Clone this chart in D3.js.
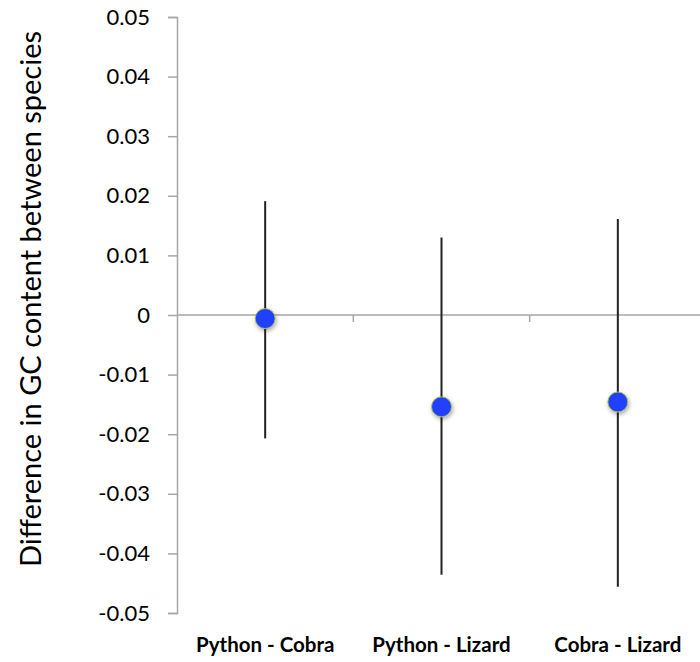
<!DOCTYPE html>
<html>
<head>
<meta charset="utf-8">
<script src="https://cdn.jsdelivr.net/npm/d3@7"></script>
<style>
  html, body { margin: 0; padding: 0; background: #fff; }
  svg { display: block; }
</style>
</head>
<body>
<svg id="chart" width="700" height="662"></svg>
<script>
const categories = ["Python - Cobra", "Python - Lizard", "Cobra - Lizard"];
const means = [-0.0006, -0.0154, -0.0146];
const upper = [0.0191, 0.0130, 0.0161];
const lower = [-0.0207, -0.0436, -0.0456];
const yTicks = [0.05, 0.04, 0.03, 0.02, 0.01, 0, -0.01, -0.02, -0.03, -0.04, -0.05];
const yTickLabels = ["0.05", "0.04", "0.03", "0.02", "0.01", "0", "-0.01", "-0.02", "-0.03", "-0.04", "-0.05"];
const yTitle = "Difference in GC content between species";

const svg = d3.select("#chart");
const font = "Lato, 'Open Sans', sans-serif";

const y = d3.scaleLinear().domain([-0.05, 0.05]).range([613, 17]);
const x = d3.scaleBand().domain(categories).range([177, 706]).padding(0);

const defs = svg.append("defs");
const f = defs.append("filter").attr("id", "shadow").attr("x", "-50%").attr("y", "-50%").attr("width", "200%").attr("height", "200%");
f.append("feDropShadow").attr("dx", 1).attr("dy", 2).attr("stdDeviation", 2).attr("flood-color", "#000").attr("flood-opacity", 0.35);

// Y axis
const yAxis = d3.axisLeft(y).tickValues(yTicks).tickSize(9).tickPadding(18)
  .tickFormat((d, i) => yTickLabels[i]);
const gy = svg.append("g").attr("transform", "translate(177,0)").call(yAxis);
gy.select(".domain").attr("stroke", "#a6a6a6").attr("stroke-width", 1.5);
gy.selectAll(".tick line").attr("stroke", "#a6a6a6").attr("stroke-width", 1.5);
gy.selectAll(".tick text").attr("font-family", font).attr("font-size", 22).attr("fill", "#000");

// Zero line (category axis)
svg.append("line").attr("x1", 177).attr("x2", 700).attr("y1", y(0)).attr("y2", y(0))
  .attr("stroke", "#a6a6a6").attr("stroke-width", 1.5);
svg.selectAll(".ctick").data(categories.slice(1)).enter().append("line")
  .attr("x1", d => x(d)).attr("x2", d => x(d))
  .attr("y1", y(0)).attr("y2", y(0) + 7)
  .attr("stroke", "#a6a6a6").attr("stroke-width", 1.5);

// Category labels
svg.selectAll(".clabel").data(categories).enter().append("text")
  .attr("x", d => x(d) + x.bandwidth() / 2).attr("y", 652)
  .attr("text-anchor", "middle").attr("font-family", font).attr("font-weight", "bold")
  .attr("font-size", 20.5).attr("fill", "#000").text(d => d);

// Y title
svg.append("text").attr("transform", "translate(41,299) rotate(-90)")
  .attr("text-anchor", "middle").attr("font-family", font).attr("font-size", 29)
  .attr("fill", "#000").text(yTitle);

// Error bars
svg.selectAll(".err").data(categories).enter().append("line")
  .attr("x1", d => x(d) + x.bandwidth() / 2).attr("x2", d => x(d) + x.bandwidth() / 2)
  .attr("y1", (d, i) => y(upper[i])).attr("y2", (d, i) => y(lower[i]))
  .attr("stroke", "#222").attr("stroke-width", 2);

// Points
svg.selectAll(".pt").data(categories).enter().append("circle")
  .attr("cx", d => x(d) + x.bandwidth() / 2)
  .attr("cy", (d, i) => y(means[i]))
  .attr("r", 10)
  .attr("fill", "#2040ff").attr("stroke", "#a6c060").attr("stroke-width", 1)
  .attr("filter", "url(#shadow)");
</script>
</body>
</html>
